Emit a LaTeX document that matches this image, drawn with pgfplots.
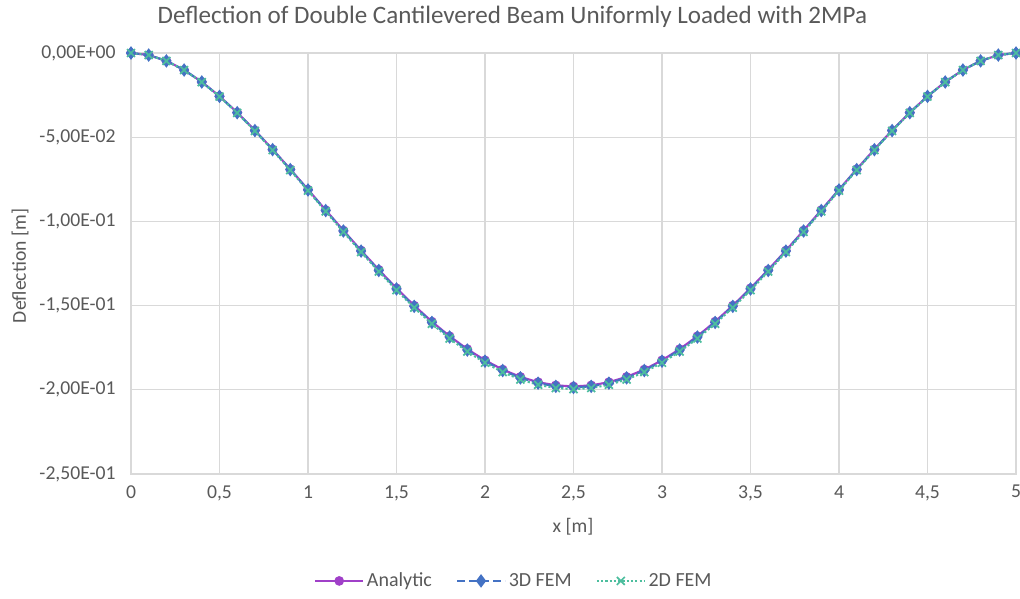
\documentclass[border=0pt]{standalone}
\usepackage{pgfplots}
\usepackage{pgfplotstable}
\pgfplotsset{compat=1.18}
\usepackage{fontspec}
\setmainfont{Carlito}
\definecolor{txt}{HTML}{595959}
\definecolor{gridc}{HTML}{D9D9D9}
\definecolor{cana}{HTML}{A040C8}
\definecolor{cthree}{HTML}{4472C4}
\definecolor{ctwo}{HTML}{4DBE9E}

\pgfplotstableread{
x ana three two
0.0 0 0 0
0.1 -0.00122 -0.00122 -0.00123
0.2 -0.00467 -0.00468 -0.00471
0.3 -0.01008 -0.01011 -0.01016
0.4 -0.01716 -0.01721 -0.01730
0.5 -0.02566 -0.02574 -0.02587
0.6 -0.03533 -0.03544 -0.03561
0.7 -0.04592 -0.04606 -0.04629
0.8 -0.05722 -0.05739 -0.05768
0.9 -0.06902 -0.06923 -0.06957
1.0 -0.08110 -0.08134 -0.08175
1.1 -0.09329 -0.09357 -0.09404
1.2 -0.10540 -0.10572 -0.10624
1.3 -0.11727 -0.11762 -0.11821
1.4 -0.12876 -0.12915 -0.12979
1.5 -0.13971 -0.14013 -0.14083
1.6 -0.15000 -0.15045 -0.15120
1.7 -0.15953 -0.16001 -0.16081
1.8 -0.16817 -0.16867 -0.16951
1.9 -0.17585 -0.17638 -0.17726
2.0 -0.18248 -0.18303 -0.18394
2.1 -0.18799 -0.18855 -0.18949
2.2 -0.19234 -0.19292 -0.19388
2.3 -0.19548 -0.19607 -0.19704
2.4 -0.19737 -0.19796 -0.19895
2.5 -0.19800 -0.19859 -0.19958
2.6 -0.19737 -0.19796 -0.19895
2.7 -0.19548 -0.19607 -0.19704
2.8 -0.19234 -0.19292 -0.19388
2.9 -0.18799 -0.18855 -0.18949
3.0 -0.18248 -0.18303 -0.18394
3.1 -0.17585 -0.17638 -0.17726
3.2 -0.16817 -0.16867 -0.16951
3.3 -0.15953 -0.16001 -0.16081
3.4 -0.15000 -0.15045 -0.15120
3.5 -0.13971 -0.14013 -0.14083
3.6 -0.12876 -0.12915 -0.12979
3.7 -0.11727 -0.11762 -0.11821
3.8 -0.10540 -0.10572 -0.10624
3.9 -0.09329 -0.09357 -0.09404
4.0 -0.08110 -0.08134 -0.08175
4.1 -0.06902 -0.06923 -0.06957
4.2 -0.05722 -0.05739 -0.05768
4.3 -0.04592 -0.04606 -0.04629
4.4 -0.03533 -0.03544 -0.03561
4.5 -0.02566 -0.02574 -0.02587
4.6 -0.01716 -0.01721 -0.01730
4.7 -0.01008 -0.01011 -0.01016
4.8 -0.00467 -0.00468 -0.00471
4.9 -0.00122 -0.00122 -0.00123
5.0 0 0 0
}\data

\begin{document}
\begin{tikzpicture}
\useasboundingbox (-98.25pt,-93.75pt) rectangle (666.75pt,355.5pt);
\begin{axis}[
  at={(0,0)}, anchor=south west,
  scale only axis, width=663.75pt, height=315.75pt,
  xmin=0, xmax=5, ymin=-0.25, ymax=0,
  xtick={0,0.5,...,5},
  xticklabels={0,{0,5},1,{1,5},2,{2,5},3,{3,5},4,{4,5},5},
  ytick={-0.25,-0.2,-0.15,-0.1,-0.05,0},
  yticklabels={{-2,50E-01},{-2,00E-01},{-1,50E-01},{-1,00E-01},{-5,00E-02},{0,00E+00}},
  grid=major,
  major grid style={gridc, line width=1pt},
  axis line style={gridc, line width=1pt},
  major tick length=0pt,
  tick label style={font=\fontsize{14.75}{16}\selectfont, text=txt},
  xticklabel style={yshift=-5pt},
  yticklabel style={xshift=-8pt},
  legend columns=3,
  legend style={at={(0.433,-0.254)}, anchor=center, draw=none, fill=none,
     font=\fontsize{15}{17}\selectfont, text=txt,
     /tikz/every even column/.append style={column sep=16pt}},
  legend cell align=left,
  legend image code/.code={\draw[mark repeat=2,mark phase=2] plot coordinates {(0pt,0pt) (18pt,0pt) (36pt,0pt)};},
]
\addplot[cana, line width=1.6pt, mark=*, mark size=2.8pt, mark options={solid, fill=cana}] table[x=x,y=ana]{\data};
\addlegendentry{Analytic}
\addplot[cthree, line width=1.6pt, dashed, dash pattern=on 6pt off 3pt, mark=diamond*, mark size=3.8pt, mark options={solid, fill=cthree}] table[x=x,y=three]{\data};
\addlegendentry{3D FEM}
\addplot[ctwo, line width=1.6pt, dotted, dash pattern=on 1.6pt off 1.6pt, mark=x, mark size=4.2pt, mark options={solid, line width=1.3pt}] table[x=x,y=two]{\data};
\addlegendentry{2D FEM}
\end{axis}
\node[text=txt, font=\fontsize{18.8}{22}\selectfont] at (286pt,342.75pt) {Deflection of Double Cantilevered Beam Uniformly Loaded with 2MPa};
\node[text=txt, font=\fontsize{14.75}{16}\selectfont, rotate=90] at (-83.25pt,156pt) {Deflection [m]};
\node[text=txt, font=\fontsize{14.75}{16}\selectfont] at (331.5pt,-39.75pt) {x [m]};
\end{tikzpicture}
\end{document}
